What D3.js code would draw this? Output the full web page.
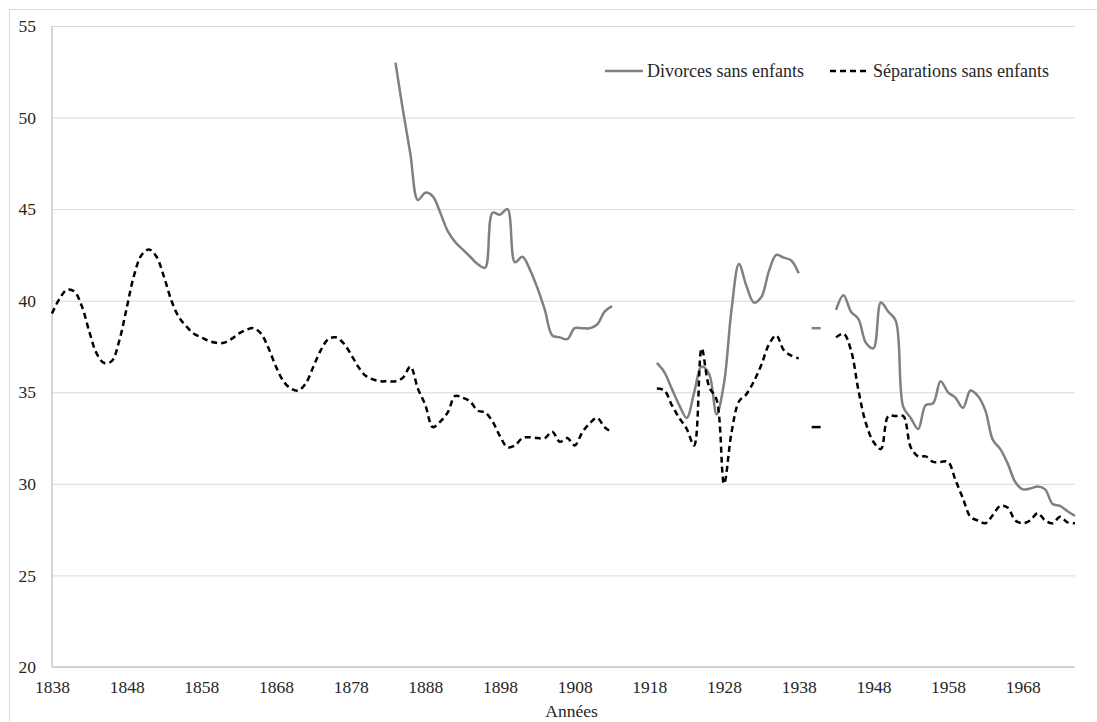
<!DOCTYPE html>
<html>
<head>
<meta charset="utf-8">
<script src="https://cdn.jsdelivr.net/npm/d3@7"></script>
<style>
  body { margin: 0; background: #fff; }
  svg text { font-family: "Liberation Serif", "Times New Roman", serif !important; }
</style>
</head>
<body>
<div id="chart"></div>
<script>
// first and last year of the category axis
const firstYear = 1838;
const lastYear = 1975;
const yearTicks = d3.range(1838, 1975, 10);
const valueTicks = [20, 25, 30, 35, 40, 45, 50, 55];

// Séparations sans enfants, one value per year from 1838 (null = no data)
const separations = [
  39.3, 40.1, 40.6, 40.5, 39.7, 38.3, 37.1, 36.6, 36.7, 37.8,   // 1838
  39.6, 41.4, 42.5, 42.8, 42.4, 41.3, 40.0, 39.1, 38.6, 38.2,   // 1848
  38.0, 37.8, 37.7, 37.7, 37.9, 38.2, 38.4, 38.5, 38.2, 37.4,   // 1858
  36.4, 35.6, 35.2, 35.1, 35.5, 36.4, 37.3, 37.9, 38.0, 37.7,   // 1868
  37.1, 36.4, 35.9, 35.7, 35.6, 35.6, 35.6, 35.8, 36.4, 35.2,   // 1878
  34.3, 33.1, 33.4, 33.9, 34.8, 34.7, 34.5, 34.0, 33.9, 33.4,   // 1888
  32.6, 32.0, 32.1, 32.5, 32.55, 32.5, 32.5, 32.85, 32.3, 32.5, // 1898
  32.1, 32.8, 33.3, 33.6, 33.1, 32.8, null, null, null, null,   // 1908
  null, 35.2, 35.1, 34.3, 33.6, 33.0, 32.1, 37.4, 35.3, 34.6,   // 1918
  30.0, 32.8, 34.5, 34.9, 35.6, 36.5, 37.6, 38.1, 37.3, 37.0,   // 1928
  36.85, null, 33.1, null, null, 38.0, 38.2, 37.3, 35.1, 33.3,  // 1938
  32.3, 31.9, 33.7, 33.7, 33.7, 32.0, 31.5, 31.5, 31.2, 31.2,   // 1948
  31.2, 30.2, 29.2, 28.2, 28.0, 27.85, 28.3, 28.8, 28.7, 28.0,  // 1958
  27.85, 28.0, 28.4, 28.0, 27.85, 28.2, 27.9, 27.85             // 1968
];

// Divorces sans enfants, one value per year from 1838 (null = no data)
const divorces = [
  null, null, null, null, null, null, null, null, null, null,   // 1838
  null, null, null, null, null, null, null, null, null, null,   // 1848
  null, null, null, null, null, null, null, null, null, null,   // 1858
  null, null, null, null, null, null, null, null, null, null,   // 1868
  null, null, null, null, null, null, 53.0, 50.4, 48.0, 45.5,   // 1878
  45.9, 45.7, 44.8, 43.8, 43.2, 42.8, 42.4, 42.0, 41.8, 44.8,   // 1888
  44.7, 45.0, 42.1, 42.4, 41.7, 40.7, 39.5, 38.1, 38.0, 37.9,   // 1898
  38.5, 38.5, 38.5, 38.7, 39.4, 39.7, null, null, null, null,   // 1908
  null, 36.6, 36.1, 35.2, 34.3, 33.6, 35.0, 36.4, 36.0, 33.8,   // 1918
  35.5, 39.5, 42.0, 40.8, 39.9, 40.2, 41.6, 42.5, 42.35, 42.2,  // 1928
  41.5, null, 38.5, null, null, 39.5, 40.3, 39.4, 39.0, 37.7,   // 1938
  37.4, 39.9, 39.4, 38.9, 34.2, 33.6, 33.0, 34.3, 34.4, 35.6,   // 1948
  35.0, 34.7, 34.15, 35.1, 34.8, 34.0, 32.4, 31.9, 31.1, 30.1,  // 1958
  29.7, 29.75, 29.85, 29.7, 28.9, 28.8, 28.5, 28.25             // 1968
];

const seriesNames = ["Divorces sans enfants", "Séparations sans enfants"];
const xTitle = "Années";

const W = 1097, H = 722;
const margin = {left: 52, right: 22, top: 26, bottom: 55};
const FONT = "Liberation Serif";
const FSIZE = 17.5;
const TXT = "#262626";

const svg = d3.select("#chart").append("svg")
  .attr("width", W).attr("height", H)
  .attr("font-family", FONT);

// chart frame
svg.append("rect")
  .attr("x", 9.5).attr("y", 9.5)
  .attr("width", W + 20).attr("height", H + 20)
  .attr("fill", "none").attr("stroke", "#d9d9d9");

const x = d3.scaleLinear().domain([firstYear, lastYear]).range([margin.left, W - margin.right]);
const y = d3.scaleLinear().domain([20, 55]).range([H - margin.bottom, margin.top]);

// gridlines + y labels
const yAxis = svg.append("g")
  .attr("transform", "translate(" + margin.left + ",0)")
  .call(d3.axisLeft(y).tickValues(valueTicks).tickSize(-(W - margin.left - margin.right)).tickPadding(16));
yAxis.attr("font-family", FONT).attr("font-size", FSIZE);
yAxis.select(".domain").remove();
yAxis.selectAll("line").attr("stroke", "#d9d9d9");
yAxis.selectAll("text").attr("fill", TXT);

// x axis labels
const xAxis = svg.append("g")
  .attr("transform", "translate(0," + (H - margin.bottom) + ")")
  .call(d3.axisBottom(x).tickValues(yearTicks).tickSize(0).tickPadding(14).tickFormat(d3.format("d")));
xAxis.attr("font-family", FONT).attr("font-size", FSIZE);
xAxis.select(".domain").remove();
xAxis.selectAll("text").attr("fill", TXT);

// axis lines
svg.append("line")
  .attr("x1", x(firstYear)).attr("x2", x(firstYear))
  .attr("y1", y(55)).attr("y2", y(20))
  .attr("stroke", "#c8c8c8").attr("stroke-width", 1.5);
svg.append("line")
  .attr("x1", x(firstYear)).attr("x2", x(lastYear))
  .attr("y1", y(20)).attr("y2", y(20))
  .attr("stroke", "#c8c8c8").attr("stroke-width", 1.5);

svg.append("text")
  .attr("x", (x(firstYear) + x(lastYear)) / 2 + 8)
  .attr("y", H - 5)
  .attr("text-anchor", "middle")
  .attr("font-size", FSIZE).attr("fill", TXT)
  .text(xTitle);

const series = [
  {name: seriesNames[0], values: divorces, color: "#808080", dash: null},
  {name: seriesNames[1], values: separations, color: "#000", dash: "6,4"}
];

const line = d3.line()
  .defined(d => d.v != null)
  .x(d => x(d.year))
  .y(d => y(d.v))
  .curve(d3.curveCatmullRom.alpha(0.5));

series.forEach(s => {
  const pts = s.values.map((v, i) => ({year: firstYear + i, v: v}));
  svg.append("path")
    .datum(pts)
    .attr("d", line)
    .attr("fill", "none")
    .attr("stroke", s.color)
    .attr("stroke-width", 2.5)
    .attr("stroke-dasharray", s.dash);
  // isolated points are shown as a short stroke
  const lone = pts.filter((d, i) => d.v != null &&
      (i === 0 || pts[i - 1].v == null) && (i === pts.length - 1 || pts[i + 1].v == null));
  svg.selectAll(null).data(lone).enter().append("line")
    .attr("x1", d => x(d.year) - 2).attr("x2", d => x(d.year) + 7)
    .attr("y1", d => y(d.v)).attr("y2", d => y(d.v))
    .attr("stroke", s.color).attr("stroke-width", 2.5);
});

// legend
const legend = svg.append("g").attr("transform", "translate(605,71)");
const leg1 = legend.append("g");
leg1.append("line").attr("x1", 0).attr("x2", 38).attr("stroke", "#808080").attr("stroke-width", 2.5);
leg1.append("text").attr("x", 42).attr("y", 6).attr("font-size", 18).attr("fill", TXT).text(seriesNames[0]);
const leg2 = legend.append("g").attr("transform", "translate(225,0)");
leg2.append("line").attr("x1", 0).attr("x2", 40).attr("stroke", "#000").attr("stroke-width", 2.5).attr("stroke-dasharray", "6,4");
leg2.append("text").attr("x", 43).attr("y", 6).attr("font-size", 18).attr("fill", TXT).text(seriesNames[1]);
</script>
</body>
</html>
